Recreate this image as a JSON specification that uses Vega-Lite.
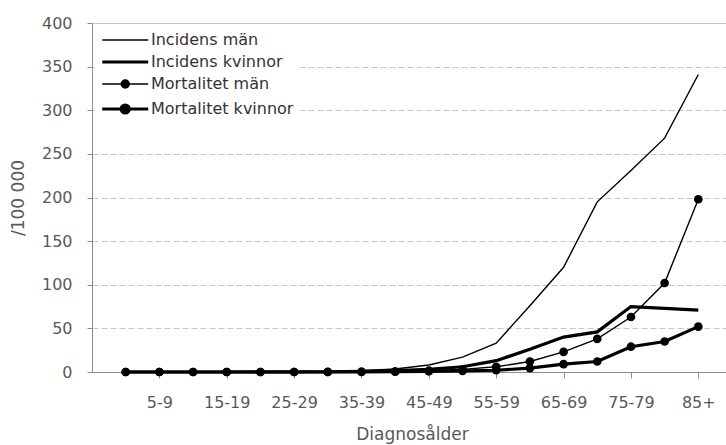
{
  "$schema": "https://vega.github.io/schema/vega-lite/v6.json",
  "width": 640,
  "height": 349,
  "autosize": "none",
  "padding": {"left": 92, "top": 23, "right": 0, "bottom": 73},
  "background": "white",
  "config": {
    "view": {"stroke": null},
    "font": "DejaVu Sans",
    "axis": {"labelFont": "DejaVu Sans", "titleFont": "DejaVu Sans", "labelColor": "#595959", "titleColor": "#595959", "titleFontWeight": "normal", "domainColor": "#8c8c8c", "tickColor": "#8c8c8c"}
  },
  "data": {
    "values": [
      {"age": "0-4", "series": "Incidens män", "value": 0},
      {"age": "5-9", "series": "Incidens män", "value": 0},
      {"age": "10-14", "series": "Incidens män", "value": 0},
      {"age": "15-19", "series": "Incidens män", "value": 0},
      {"age": "20-24", "series": "Incidens män", "value": 0.1},
      {"age": "25-29", "series": "Incidens män", "value": 0.2},
      {"age": "30-34", "series": "Incidens män", "value": 0.4},
      {"age": "35-39", "series": "Incidens män", "value": 1.5},
      {"age": "40-44", "series": "Incidens män", "value": 3.5},
      {"age": "45-49", "series": "Incidens män", "value": 8},
      {"age": "50-54", "series": "Incidens män", "value": 17},
      {"age": "55-59", "series": "Incidens män", "value": 33},
      {"age": "60-64", "series": "Incidens män", "value": 76},
      {"age": "65-69", "series": "Incidens män", "value": 120},
      {"age": "70-74", "series": "Incidens män", "value": 195},
      {"age": "75-79", "series": "Incidens män", "value": 231},
      {"age": "80-84", "series": "Incidens män", "value": 268},
      {"age": "85+", "series": "Incidens män", "value": 341},
      {"age": "0-4", "series": "Incidens kvinnor", "value": 0},
      {"age": "5-9", "series": "Incidens kvinnor", "value": 0},
      {"age": "10-14", "series": "Incidens kvinnor", "value": 0},
      {"age": "15-19", "series": "Incidens kvinnor", "value": 0},
      {"age": "20-24", "series": "Incidens kvinnor", "value": 0.1},
      {"age": "25-29", "series": "Incidens kvinnor", "value": 0.2},
      {"age": "30-34", "series": "Incidens kvinnor", "value": 0.3},
      {"age": "35-39", "series": "Incidens kvinnor", "value": 0.8},
      {"age": "40-44", "series": "Incidens kvinnor", "value": 1.5},
      {"age": "45-49", "series": "Incidens kvinnor", "value": 3},
      {"age": "50-54", "series": "Incidens kvinnor", "value": 6},
      {"age": "55-59", "series": "Incidens kvinnor", "value": 13},
      {"age": "60-64", "series": "Incidens kvinnor", "value": 26},
      {"age": "65-69", "series": "Incidens kvinnor", "value": 40},
      {"age": "70-74", "series": "Incidens kvinnor", "value": 46},
      {"age": "75-79", "series": "Incidens kvinnor", "value": 75},
      {"age": "80-84", "series": "Incidens kvinnor", "value": 73},
      {"age": "85+", "series": "Incidens kvinnor", "value": 71},
      {"age": "0-4", "series": "Mortalitet män", "value": 0},
      {"age": "5-9", "series": "Mortalitet män", "value": 0},
      {"age": "10-14", "series": "Mortalitet män", "value": 0},
      {"age": "15-19", "series": "Mortalitet män", "value": 0},
      {"age": "20-24", "series": "Mortalitet män", "value": 0},
      {"age": "25-29", "series": "Mortalitet män", "value": 0},
      {"age": "30-34", "series": "Mortalitet män", "value": 0.1},
      {"age": "35-39", "series": "Mortalitet män", "value": 0.3},
      {"age": "40-44", "series": "Mortalitet män", "value": 0.6},
      {"age": "45-49", "series": "Mortalitet män", "value": 1.5},
      {"age": "50-54", "series": "Mortalitet män", "value": 3},
      {"age": "55-59", "series": "Mortalitet män", "value": 6},
      {"age": "60-64", "series": "Mortalitet män", "value": 12},
      {"age": "65-69", "series": "Mortalitet män", "value": 23},
      {"age": "70-74", "series": "Mortalitet män", "value": 38},
      {"age": "75-79", "series": "Mortalitet män", "value": 63},
      {"age": "80-84", "series": "Mortalitet män", "value": 102},
      {"age": "85+", "series": "Mortalitet män", "value": 198},
      {"age": "0-4", "series": "Mortalitet kvinnor", "value": 0},
      {"age": "5-9", "series": "Mortalitet kvinnor", "value": 0},
      {"age": "10-14", "series": "Mortalitet kvinnor", "value": 0},
      {"age": "15-19", "series": "Mortalitet kvinnor", "value": 0},
      {"age": "20-24", "series": "Mortalitet kvinnor", "value": 0},
      {"age": "25-29", "series": "Mortalitet kvinnor", "value": 0},
      {"age": "30-34", "series": "Mortalitet kvinnor", "value": 0},
      {"age": "35-39", "series": "Mortalitet kvinnor", "value": 0.2},
      {"age": "40-44", "series": "Mortalitet kvinnor", "value": 0.4},
      {"age": "45-49", "series": "Mortalitet kvinnor", "value": 0.8},
      {"age": "50-54", "series": "Mortalitet kvinnor", "value": 1.2},
      {"age": "55-59", "series": "Mortalitet kvinnor", "value": 2},
      {"age": "60-64", "series": "Mortalitet kvinnor", "value": 4.5},
      {"age": "65-69", "series": "Mortalitet kvinnor", "value": 9},
      {"age": "70-74", "series": "Mortalitet kvinnor", "value": 12},
      {"age": "75-79", "series": "Mortalitet kvinnor", "value": 29},
      {"age": "80-84", "series": "Mortalitet kvinnor", "value": 35},
      {"age": "85+", "series": "Mortalitet kvinnor", "value": 52}
    ]
  },
  "encoding": {
    "x": {
      "field": "age",
      "type": "ordinal",
      "scale": {"type": "point", "padding": 1, "domain": ["0-4","5-9","10-14","15-19","20-24","25-29","30-34","35-39","40-44","45-49","50-54","55-59","60-64","65-69","70-74","75-79","80-84","85+"]},
      "axis": {
        "title": "Diagnosålder",
        "values": ["5-9","15-19","25-29","35-39","45-49","55-59","65-69","75-79","85+"],
        "labelAngle": 0,
        "labelFontSize": 16,
        "titleFontSize": 17,
        "tickSize": 6,
        "labelPadding": 16,
        "titlePadding": 16,
        "grid": false
      }
    },
    "y": {
      "field": "value",
      "type": "quantitative",
      "scale": {"domain": [0, 400], "nice": false},
      "axis": {
        "title": "/100 000",
        "values": [0, 50, 100, 150, 200, 250, 300, 350, 400],
        "labelFontSize": 16,
        "titleFontSize": 17,
        "tickSize": 5,
        "labelPadding": 15,
        "titlePadding": 14,
        "grid": true,
        "gridColor": "#c8c8c8",
        "gridDash": {"condition": {"test": "datum.value === 400", "value": []}, "value": [6, 3]}
      }
    }
  },
  "layer": [
    {
      "mark": {"type": "line", "color": "black"},
      "encoding": {
        "strokeWidth": {
          "field": "series",
          "type": "ordinal",
          "scale": {"type": "ordinal", "domain": ["Incidens män", "Incidens kvinnor", "Mortalitet män", "Mortalitet kvinnor"], "range": [1.4, 3.2, 1.4, 3.2]},
          "legend": {
            "title": null,
            "orient": "none",
            "legendX": 3,
            "legendY": 4,
            "padding": 5,
            "fillColor": "white",
            "labelFont": "DejaVu Sans",
            "labelFontSize": 16,
            "labelColor": "#333333",
            "labelOffset": 35,
            "symbolSize": 132,
            "rowPadding": 6,
            "symbolStrokeColor": "black",
            "symbolFillColor": "black",
            "encode": {
              "symbols": {
                "update": {
                  "shape": {"signal": "test(/Mortalitet/, datum.value) ? 'M-1,0L7,0M2.3,0A0.7,0.7 0 1,0 3.7,0A0.7,0.7 0 1,0 2.3,0Z' : 'M-1,0L7,0'"},
                  "fill": {"value": "black"},
                  "stroke": {"value": "black"}
                }
              }
            }
          }
        }
      }
    },
    {
      "transform": [{"filter": {"field": "series", "oneOf": ["Mortalitet män", "Mortalitet kvinnor"]}}],
      "mark": {"type": "point", "filled": true, "color": "black", "opacity": 1, "size": 75, "shape": "circle"},
      "encoding": {"detail": {"field": "series"}}
    }
  ]
}
